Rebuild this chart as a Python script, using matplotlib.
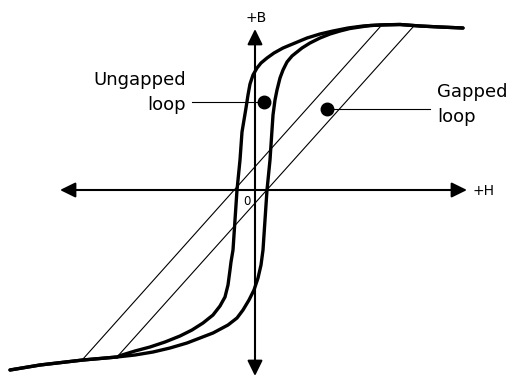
import numpy as np
import matplotlib.pyplot as plt

# B-H curves, arbitrary units (origin where the axes cross)
desc_H = [20.8, 18.5, 16.5, 14.5, 12.5, 10.8, 9.3, 7.8, 6.5, 5.2, 4.0, 2.8, 1.9, 1.2, 0.6,
          0.2, -0.2, -0.5, -0.7, -0.9, -1.1, -1.3, -1.5, -1.8, -2.0, -2.2, -2.4, -2.5,
          -2.7, -3.0, -3.5, -4.2, -5.2, -6.3, -7.5, -9.0, -10.5, -12.0, -13.3, -13.8,
          -17.2, -21.5, -24.5]
desc_B = [16.2, 16.3, 16.4, 16.55, 16.5, 16.4, 16.2, 15.9, 15.6, 15.2, 14.7, 14.2, 13.7,
          13.2, 12.7, 12.2, 11.5, 10.6, 9.5, 8.2, 7.0, 5.8, 3.0, 0.0, -3.0, -6.0, -7.2,
          -8.0, -9.5, -10.7, -11.6, -12.5, -13.3, -14.0, -14.6, -15.2, -15.7, -16.1,
          -16.5, -16.7, -17.0, -17.5, -18.0]

asc_H = [-24.5, -21.5, -17.2, -13.8, -12.0, -10.2, -8.5, -6.8, -5.5, -4.2, -2.7, -1.8,
         -1.2, -0.6, -0.1, 0.3, 0.6, 0.8, 1.0, 1.2, 1.5, 1.7, 1.8, 2.0, 2.2, 2.5, 2.8,
         3.2, 3.7, 4.2, 4.7, 5.5, 6.5, 7.5, 8.5, 9.5, 10.5, 11.5, 13.0, 14.5, 16.5,
         18.5, 20.8]
asc_B = [-18.0, -17.5, -17.0, -16.7, -16.5, -16.2, -15.8, -15.3, -14.8, -14.3, -13.5,
         -12.8, -12.0, -11.0, -10.0, -8.8, -7.5, -6.0, -3.0, 0.0, 3.0, 6.0, 7.5, 9.0,
         10.0, 11.2, 12.0, 12.8, 13.4, 13.8, 14.2, 14.7, 15.2, 15.6, 15.9, 16.15, 16.3,
         16.45, 16.52, 16.55, 16.4, 16.3, 16.2]

# sheared (gapped) loop sides
gap_left_H = [-17.2, 12.5]
gap_left_B = [-16.9, 16.3]
gap_right_H = [-13.8, 15.8]
gap_right_B = [-16.7, 16.3]

# callout dots and leader ends
ungapped_dot = (0.9, 8.8)
ungapped_lead = -6.3
gapped_dot = (7.2, 8.1)
gapped_lead = 17.5

fig = plt.figure(figsize=(5.12, 3.76), dpi=100)
ax = fig.add_axes([0, 0, 1, 1])
ax.set_xlim(-25.5, 25.7)
ax.set_ylim(-18.6, 19.0)
ax.axis('off')

# H and B axes with arrow heads at both ends
arrow = dict(arrowstyle='<|-|>,head_length=0.55,head_width=0.27', color='black',
             lw=1.5, shrinkA=0, shrinkB=0, mutation_scale=17)
ax.annotate('', xy=(21.2, 0), xytext=(-19.5, 0), arrowprops=arrow)
ax.annotate('', xy=(0, 16.1), xytext=(0, -18.6), arrowprops=arrow)

ax.plot(gap_left_H, gap_left_B, color='black', lw=0.8)
ax.plot(gap_right_H, gap_right_B, color='black', lw=0.8)

ax.plot(desc_H, desc_B, color='black', lw=2.4, solid_joinstyle='round', solid_capstyle='round')
ax.plot(asc_H, asc_B, color='black', lw=2.4, solid_joinstyle='round', solid_capstyle='round')

# labels with leaders
ax.plot([ungapped_lead, ungapped_dot[0]], [ungapped_dot[1]] * 2, color='black', lw=0.8)
ax.plot(*ungapped_dot, 'o', color='black', ms=9)
ax.plot([gapped_dot[0], gapped_lead], [gapped_dot[1]] * 2, color='black', lw=0.8)
ax.plot(*gapped_dot, 'o', color='black', ms=9)

ax.text(-6.9, 10.5, 'Ungapped', ha='right', va='baseline', fontsize=13)
ax.text(-6.9, 8.0, 'loop', ha='right', va='baseline', fontsize=13)
ax.text(18.2, 9.3, 'Gapped', ha='left', va='baseline', fontsize=13)
ax.text(18.2, 6.8, 'loop', ha='left', va='baseline', fontsize=13)

ax.text(0.1, 17.2, '+B', ha='center', va='center', fontsize=10)
ax.text(21.7, -0.1, '+H', ha='left', va='center', fontsize=10)
ax.text(-0.85, -1.15, '0', ha='center', va='center', fontsize=8.5)

fig.savefig('out.png', dpi=100)
